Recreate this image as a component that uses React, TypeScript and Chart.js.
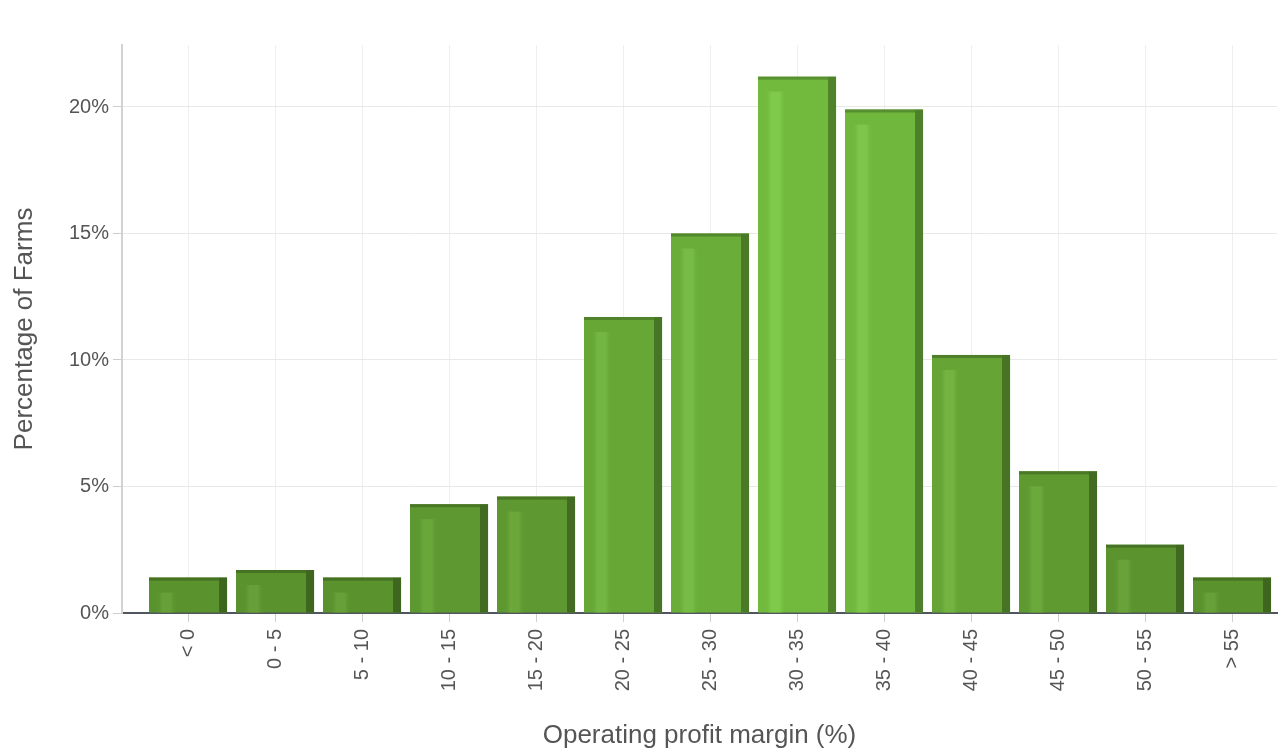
import React, { useEffect, useRef } from "react";
import { Chart, registerables } from "chart.js";

Chart.register(...registerables);

const categories: string[] = [
  "< 0", "0 - 5", "5 - 10", "10 - 15", "15 - 20", "20 - 25", "25 - 30",
  "30 - 35", "35 - 40", "40 - 45", "45 - 50", "50 - 55", "> 55",
];
const percentages: number[] = [1.4, 1.7, 1.4, 4.3, 4.6, 11.7, 15.0, 21.2, 19.9, 10.2, 5.6, 2.7, 1.4];
const yTickStep = 5;
const yMax = 22.45;
const xTitle = "Operating profit margin (%)";
const yTitle = "Percentage of Farms";

const FONT = "'Liberation Sans', Arial, Helvetica, sans-serif";
const LOW = [88, 143, 44];
const HIGH = [114, 186, 62];

function barRGB(v: number): number[] {
  const maxV = Math.max(...percentages);
  const t = Math.max(0, Math.min(1, v / maxV));
  return LOW.map((lo, k) => Math.round(lo + (HIGH[k] - lo) * t));
}
function rgb(c: number[], f = 1, add = 0, a = 1): string {
  const cc = c.map((x) => Math.max(0, Math.min(255, Math.round(x * f + add))));
  return `rgba(${cc[0]},${cc[1]},${cc[2]},${a})`;
}

const barDecor = {
  id: "barDecor",
  afterDatasetsDraw(chart: any) {
    const ctx = chart.ctx;
    const meta = chart.getDatasetMeta(0);
    meta.data.forEach((el: any, i: number) => {
      const p = el.getProps(["x", "y", "base", "width"], true);
      const left = p.x - p.width / 2;
      const right = p.x + p.width / 2;
      const top = Math.min(p.y, p.base);
      const bottom = Math.max(p.y, p.base);
      const c = barRGB(percentages[i]);
      ctx.save();
      const hTop = top + 15;
      if (bottom > hTop) {
        const g = ctx.createLinearGradient(left + 7, 0, left + 28, 0);
        g.addColorStop(0, rgb(c, 1, 0, 0));
        g.addColorStop(0.3, rgb(c, 1.03, 10, 1));
        g.addColorStop(0.7, rgb(c, 1.03, 10, 1));
        g.addColorStop(1, rgb(c, 1, 0, 0));
        ctx.fillStyle = g;
        ctx.fillRect(left + 7, hTop, 21, bottom - hTop);
      }
      ctx.fillStyle = rgb(c, 0.7);
      ctx.fillRect(right - 8, top, 8, bottom - top);
      ctx.fillStyle = rgb(c, 0.78);
      ctx.fillRect(left, top, p.width - 8, 3);
      ctx.restore();
    });
  },
};

export default function App() {
  const ref = useRef<HTMLCanvasElement | null>(null);

  useEffect(() => {
    if (!ref.current) return;
    const chart = new Chart(ref.current, {
      type: "bar",
      data: {
        datasets: [
          {
            data: percentages.map((v, i) => ({ x: i, y: v })),
            backgroundColor: percentages.map((v) => rgb(barRGB(v))),
            borderWidth: 0,
            barPercentage: 0.897,
            categoryPercentage: 1,
          },
        ],
      },
      options: {
        animation: false,
        responsive: false,
        maintainAspectRatio: false,
        layout: { padding: { top: 45, right: 4, left: 0, bottom: 0 } },
        plugins: {
          legend: { display: false },
          tooltip: { enabled: false },
        },
        scales: {
          x: {
            type: "linear",
            offset: false,
            min: -0.759,
            max: 12.517,
            afterBuildTicks: (scale: any) => {
              scale.ticks = categories.map((_, i) => ({ value: i }));
            },
            afterFit: (scale: any) => {
              scale.height = 138;
            },
            ticks: {
              autoSkip: false,
              includeBounds: false,
              minRotation: 90,
              maxRotation: 90,
              padding: 7,
              color: "#555",
              font: { family: FONT, size: 20 },
              callback: (v: any) => categories[Math.round(Number(v))] ?? "",
            },
            grid: {
              offset: false,
              color: "#efefef",
              lineWidth: 1,
              tickLength: 9,
              tickColor: "#cfcfcf",
            },
            border: { color: "#50565e", width: 2 },
            title: {
              display: true,
              text: xTitle,
              color: "#555",
              font: { family: FONT, size: 26 },
              padding: { top: 0, bottom: 0 },
            },
          },
          y: {
            min: 0,
            max: yMax,
            afterBuildTicks: (scale: any) => {
              scale.ticks = scale.ticks.filter((t: any) => t.value % yTickStep === 0);
            },
            afterFit: (scale: any) => {
              scale.width = 122;
            },
            ticks: {
              stepSize: yTickStep,
              includeBounds: false,
              padding: 4,
              color: "#555",
              font: { family: FONT, size: 20 },
              callback: (v: any) => `${v}%`,
            },
            grid: {
              color: "#e8e8e8",
              lineWidth: 1,
              tickLength: 9,
              tickColor: "#cccccc",
            },
            border: { color: "#d2d2d2", width: 2 },
            title: {
              display: true,
              text: yTitle,
              color: "#555",
              font: { family: FONT, size: 26 },
              padding: { top: 9, bottom: 0 },
            },
          },
        },
      },
      plugins: [barDecor],
    } as any);
    return () => chart.destroy();
  }, []);

  return (
    <div style={{ position: "fixed", left: 0, top: 0, width: 1281, height: 751, background: "#fff" }}>
      <canvas ref={ref} width={1281} height={751} style={{ display: "block" }} />
    </div>
  );
}
